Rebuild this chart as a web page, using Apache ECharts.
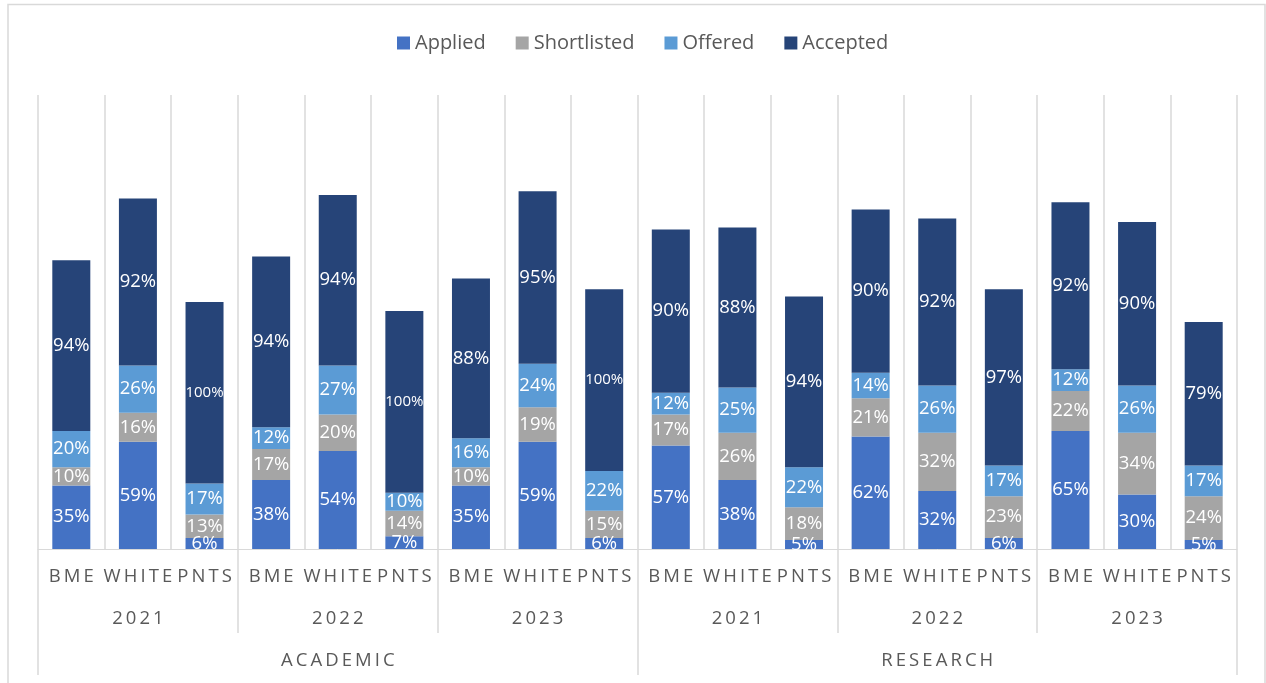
<!DOCTYPE html>
<html>
<head>
<meta charset="utf-8">
<script src="https://cdn.jsdelivr.net/npm/echarts@6/dist/echarts.min.js"></script>
<style>
  html, body { margin: 0; padding: 0; background: #ffffff; }
  #chart { width: 1266px; height: 683px; }
</style>
</head>
<body>
<div id="chart"></div>
<script>
// Stage rates (%) per ethnic group, year and staff track
const groups = ['BME', 'WHITE', 'PNTS'];
const years = ['2021', '2022', '2023'];
const tracks = ['ACADEMIC', 'RESEARCH'];

const applied     = [35, 59, 6,  38, 54, 7,  35, 59, 6,  57, 38, 5,  62, 32, 6,  65, 30, 5];
const shortlisted = [10, 16, 13, 17, 20, 14, 10, 19, 15, 17, 26, 18, 21, 32, 23, 22, 34, 24];
const offered     = [20, 26, 17, 12, 27, 10, 16, 24, 22, 12, 25, 22, 14, 26, 17, 12, 26, 17];
const accepted    = [94, 92, 100, 94, 94, 100, 88, 95, 100, 90, 88, 94, 90, 92, 97, 92, 90, 79];

const seriesNames = ['Applied', 'Shortlisted', 'Offered', 'Accepted'];
const seriesColors = ['#4472C4', '#A5A5A5', '#5B9BD5', '#264478'];
const seriesValues = [applied, shortlisted, offered, accepted];

const FONT = '"Open Sans", "Noto Sans", sans-serif';
const GRAY_TEXT = '#595959';
const RULE = '#D9D9D9';

// letter-spaced axis captions
const spaced = s => s.split('').join('\u2009');

// flattened category lists for the three axis levels
const groupCats = [];
const yearCats = [];
tracks.forEach(t => years.forEach(y => {
  yearCats.push(t + '|' + y);
  groups.forEach(g => groupCats.push(t + '|' + y + '|' + g));
}));

const series = seriesNames.map((name, i) => ({
  name: name,
  type: 'bar',
  stack: 'total',
  barWidth: 38,
  xAxisIndex: 0,
  yAxisIndex: 0,
  itemStyle: { color: seriesColors[i] },
  label: {
    show: true,
    position: 'inside',
    color: '#ffffff',
    fontFamily: FONT,
    fontSize: 18.5,
    formatter: '{c}%'
  },
  data: seriesValues[i].map(v => v >= 100
    ? { value: v, label: { fontSize: 15 } }
    : v)
}));

const option = {
  animation: false,
  backgroundColor: '#ffffff',
  legend: {
    top: 28,
    left: 392,
    itemWidth: 13,
    itemHeight: 13,
    itemGap: 30,
    icon: 'rect',
    textStyle: { fontFamily: FONT, fontSize: 20, color: GRAY_TEXT },
    data: seriesNames
  },
  grid: { left: 38, right: 29, top: 95, bottom: 134 },
  xAxis: [
    {
      type: 'category',
      position: 'bottom',
      data: groupCats,
      z: 1,
      axisLine: { show: true, lineStyle: { color: RULE, width: 1 } },
      axisTick: { show: false },
      splitLine: { show: true, interval: 0, lineStyle: { color: RULE, width: 1.5 } },
      axisLabel: {
        interval: 0,
        margin: 18,
        fontFamily: FONT,
        fontSize: 18.5,
        color: GRAY_TEXT,
        formatter: v => spaced(v.split('|')[2])
      }
    },
    {
      type: 'category',
      position: 'bottom',
      offset: 84,
      data: yearCats,
      z: 20,
      axisLine: { show: false },
      axisTick: { show: true, inside: true, length: 84, interval: 0, lineStyle: { color: RULE, width: 1.5 } },
      splitLine: { show: false },
      axisLabel: {
        interval: 0,
        inside: true,
        margin: 5,
        fontFamily: FONT,
        fontSize: 18.5,
        color: GRAY_TEXT,
        formatter: v => spaced(v.split('|')[1])
      }
    },
    {
      type: 'category',
      position: 'bottom',
      offset: 126,
      data: tracks,
      z: 20,
      axisLine: { show: false },
      axisTick: { show: true, inside: true, length: 126, interval: 0, lineStyle: { color: RULE, width: 1.5 } },
      splitLine: { show: false },
      axisLabel: {
        interval: 0,
        inside: true,
        margin: 5,
        fontFamily: FONT,
        fontSize: 18.5,
        color: GRAY_TEXT,
        formatter: v => spaced(v)
      }
    }
  ],
  yAxis: {
    type: 'value',
    min: 0,
    max: 250,
    show: false,
    splitLine: { show: false }
  },
  series: series
};

const chart = echarts.init(document.getElementById('chart'), null, { renderer: 'canvas' });
chart.setOption(option);

// Outer frame, and a mask that trims the bar labels at the plot baseline
const base = chart.convertToPixel({ yAxisIndex: 0 }, 0);
const firstX = chart.convertToPixel({ xAxisIndex: 0 }, groupCats[0]);
const lastX = chart.convertToPixel({ xAxisIndex: 0 }, groupCats[groupCats.length - 1]);
const halfBand = (lastX - firstX) / (groupCats.length - 1) / 2;

chart.setOption({
  graphic: [
    {
      type: 'rect',
      z: 10,
      silent: true,
      shape: { x: firstX - halfBand + 1, y: base + 1, width: (lastX - firstX) + 2 * halfBand - 2, height: 15 },
      style: { fill: '#ffffff' }
    },
    {
      type: 'rect',
      z: 30,
      silent: true,
      shape: { x: 8, y: 4.5, width: 1257, height: 800 },
      style: { fill: 'none', stroke: RULE, lineWidth: 1.5 }
    }
  ]
});
</script>
</body>
</html>
